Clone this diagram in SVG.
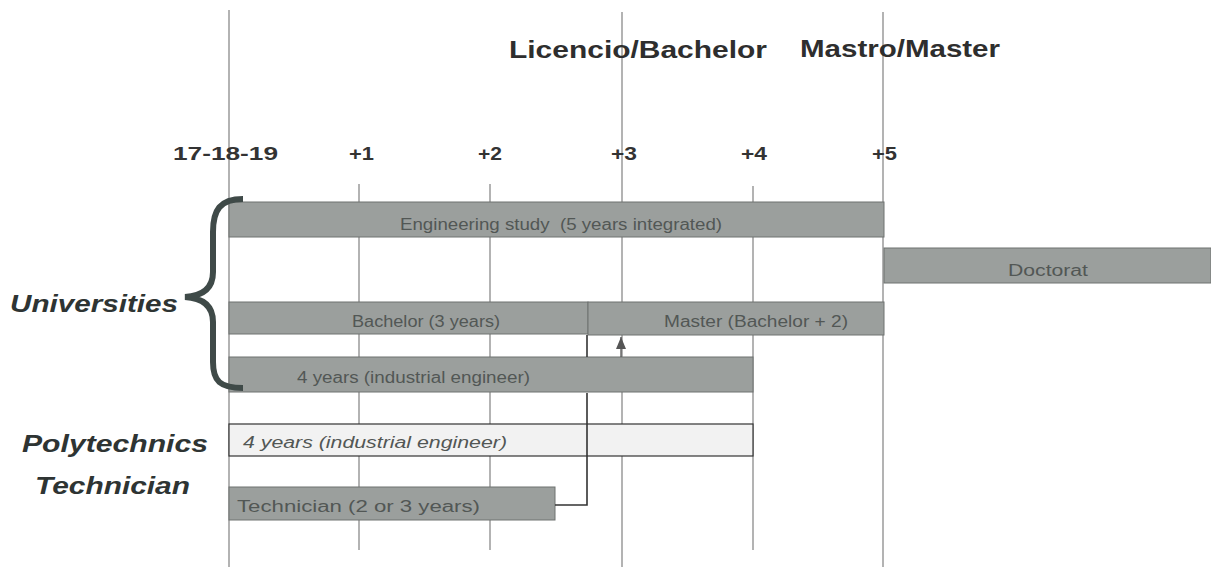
<svg xmlns="http://www.w3.org/2000/svg" width="1211" height="567" viewBox="0 0 1211 567">
<style>
.grid{stroke:#8a8a8a;stroke-width:1.3;fill:none}
.bar{fill:#9b9f9d;stroke:#6e7270;stroke-width:1}
.lbl{font-family:"Liberation Sans",Arial,sans-serif;font-size:16px;fill:#525755;white-space:pre}
.hdr{font-family:"Liberation Sans",Arial,sans-serif;font-weight:bold;fill:#2e2e2e}
.ax{font-family:"Liberation Sans",Arial,sans-serif;font-weight:bold;font-size:19px;fill:#333}
.side{font-family:"Liberation Sans",Arial,sans-serif;font-weight:bold;font-style:italic;font-size:24px;fill:#2e3433}
.conn{stroke:#333;stroke-width:1.6;fill:none}
</style>
<defs>
<marker id="arr" viewBox="0 0 12 10" refX="12" refY="5" markerWidth="12" markerHeight="10" markerUnits="userSpaceOnUse" orient="auto">
<path d="M0,0 L12,5 L0,10 Z" fill="#555"/>
</marker>
</defs>
<rect width="1211" height="567" fill="#fff"/>
<g id="gridlines">
<line class="grid" x1="229" y1="10" x2="229" y2="567"/>
<line class="grid" x1="359" y1="184" x2="359" y2="550"/>
<line class="grid" x1="490" y1="184" x2="490" y2="550"/>
<line class="grid" x1="622" y1="12" x2="622" y2="567"/>
<line class="grid" x1="753" y1="186" x2="753" y2="550"/>
<line class="grid" x1="883" y1="12" x2="883" y2="567"/>
</g>
<g id="headers">
<text class="hdr" x="509" y="58" font-size="24" textLength="258" lengthAdjust="spacingAndGlyphs">Licencio/Bachelor</text>
<text class="hdr" x="800" y="57" font-size="24" fill="#3a3a3a" textLength="200" lengthAdjust="spacingAndGlyphs">Mastro/Master</text>
</g>
<g id="axis">
<text class="ax" x="173" y="160" textLength="105" lengthAdjust="spacingAndGlyphs">17-18-19</text>
<text class="ax" x="349" y="160" textLength="25" lengthAdjust="spacingAndGlyphs">+1</text>
<text class="ax" x="478" y="160" textLength="24" lengthAdjust="spacingAndGlyphs">+2</text>
<text class="ax" x="611" y="160" textLength="26" lengthAdjust="spacingAndGlyphs">+3</text>
<text class="ax" x="741" y="160" textLength="26" lengthAdjust="spacingAndGlyphs">+4</text>
<text class="ax" x="872" y="160" textLength="25" lengthAdjust="spacingAndGlyphs">+5</text>
</g>
<g id="engineering">
<rect class="bar" x="229" y="202" width="655" height="35"/>
<text class="lbl" x="400" y="230" xml:space="preserve" textLength="322" lengthAdjust="spacingAndGlyphs">Engineering study  (5 years integrated)</text>
</g>
<g id="doctorat">
<rect class="bar" x="884" y="248" width="327" height="35"/>
<text class="lbl" x="1008" y="276" font-size="17" textLength="80" lengthAdjust="spacingAndGlyphs">Doctorat</text>
</g>
<g id="bachelor">
<rect class="bar" x="229" y="302" width="359" height="32"/>
<text class="lbl" x="352" y="327" textLength="148" lengthAdjust="spacingAndGlyphs">Bachelor (3 years)</text>
</g>
<g id="master">
<rect class="bar" x="588" y="302" width="296" height="33"/>
<text class="lbl" x="664" y="327" textLength="184" lengthAdjust="spacingAndGlyphs">Master (Bachelor + 2)</text>
</g>
<g id="industrial-univ">
<rect class="bar" x="229" y="357" width="524" height="35"/>
<text class="lbl" x="297" y="383" textLength="233" lengthAdjust="spacingAndGlyphs">4 years (industrial engineer)</text>
</g>
<g id="polytechnics-bar">
<rect x="229" y="424" width="524" height="32" fill="#f2f2f2" stroke="#333" stroke-width="1.2"/>
<text class="lbl" x="243" y="448" font-style="italic" fill="#444" textLength="264" lengthAdjust="spacingAndGlyphs">4 years (industrial engineer)</text>
</g>
<g id="technician-bar">
<rect class="bar" x="229" y="487" width="326" height="33"/>
<text class="lbl" x="237" y="512" font-size="17" fill="#4a4f4d" textLength="243" lengthAdjust="spacingAndGlyphs">Technician (2 or 3 years)</text>
</g>
<g id="connectors">
<polyline class="conn" points="555,505 587,505 587,393"/>
<line class="conn" x1="587" y1="357" x2="587" y2="335"/>
<line x1="621" y1="357" x2="621" y2="337" stroke="#555" stroke-width="1.3" marker-end="url(#arr)"/>
</g>
<g id="universities">
<path d="M243,199 C220,199 213,210 213,232 L213,272 C213,289 202,296 185,297 C202,298 213,305 213,322 L213,362 C213,381 220,388 243,388" fill="none" stroke="#3f4a48" stroke-width="6"/>
<text class="side" x="10" y="312" textLength="168" lengthAdjust="spacingAndGlyphs">Universities</text>
</g>
<g id="polytechnics">
<text class="side" x="22" y="452" textLength="186" lengthAdjust="spacingAndGlyphs">Polytechnics</text>
</g>
<g id="technician">
<text class="side" x="35" y="494" textLength="155" lengthAdjust="spacingAndGlyphs">Technician</text>
</g>
</svg>
